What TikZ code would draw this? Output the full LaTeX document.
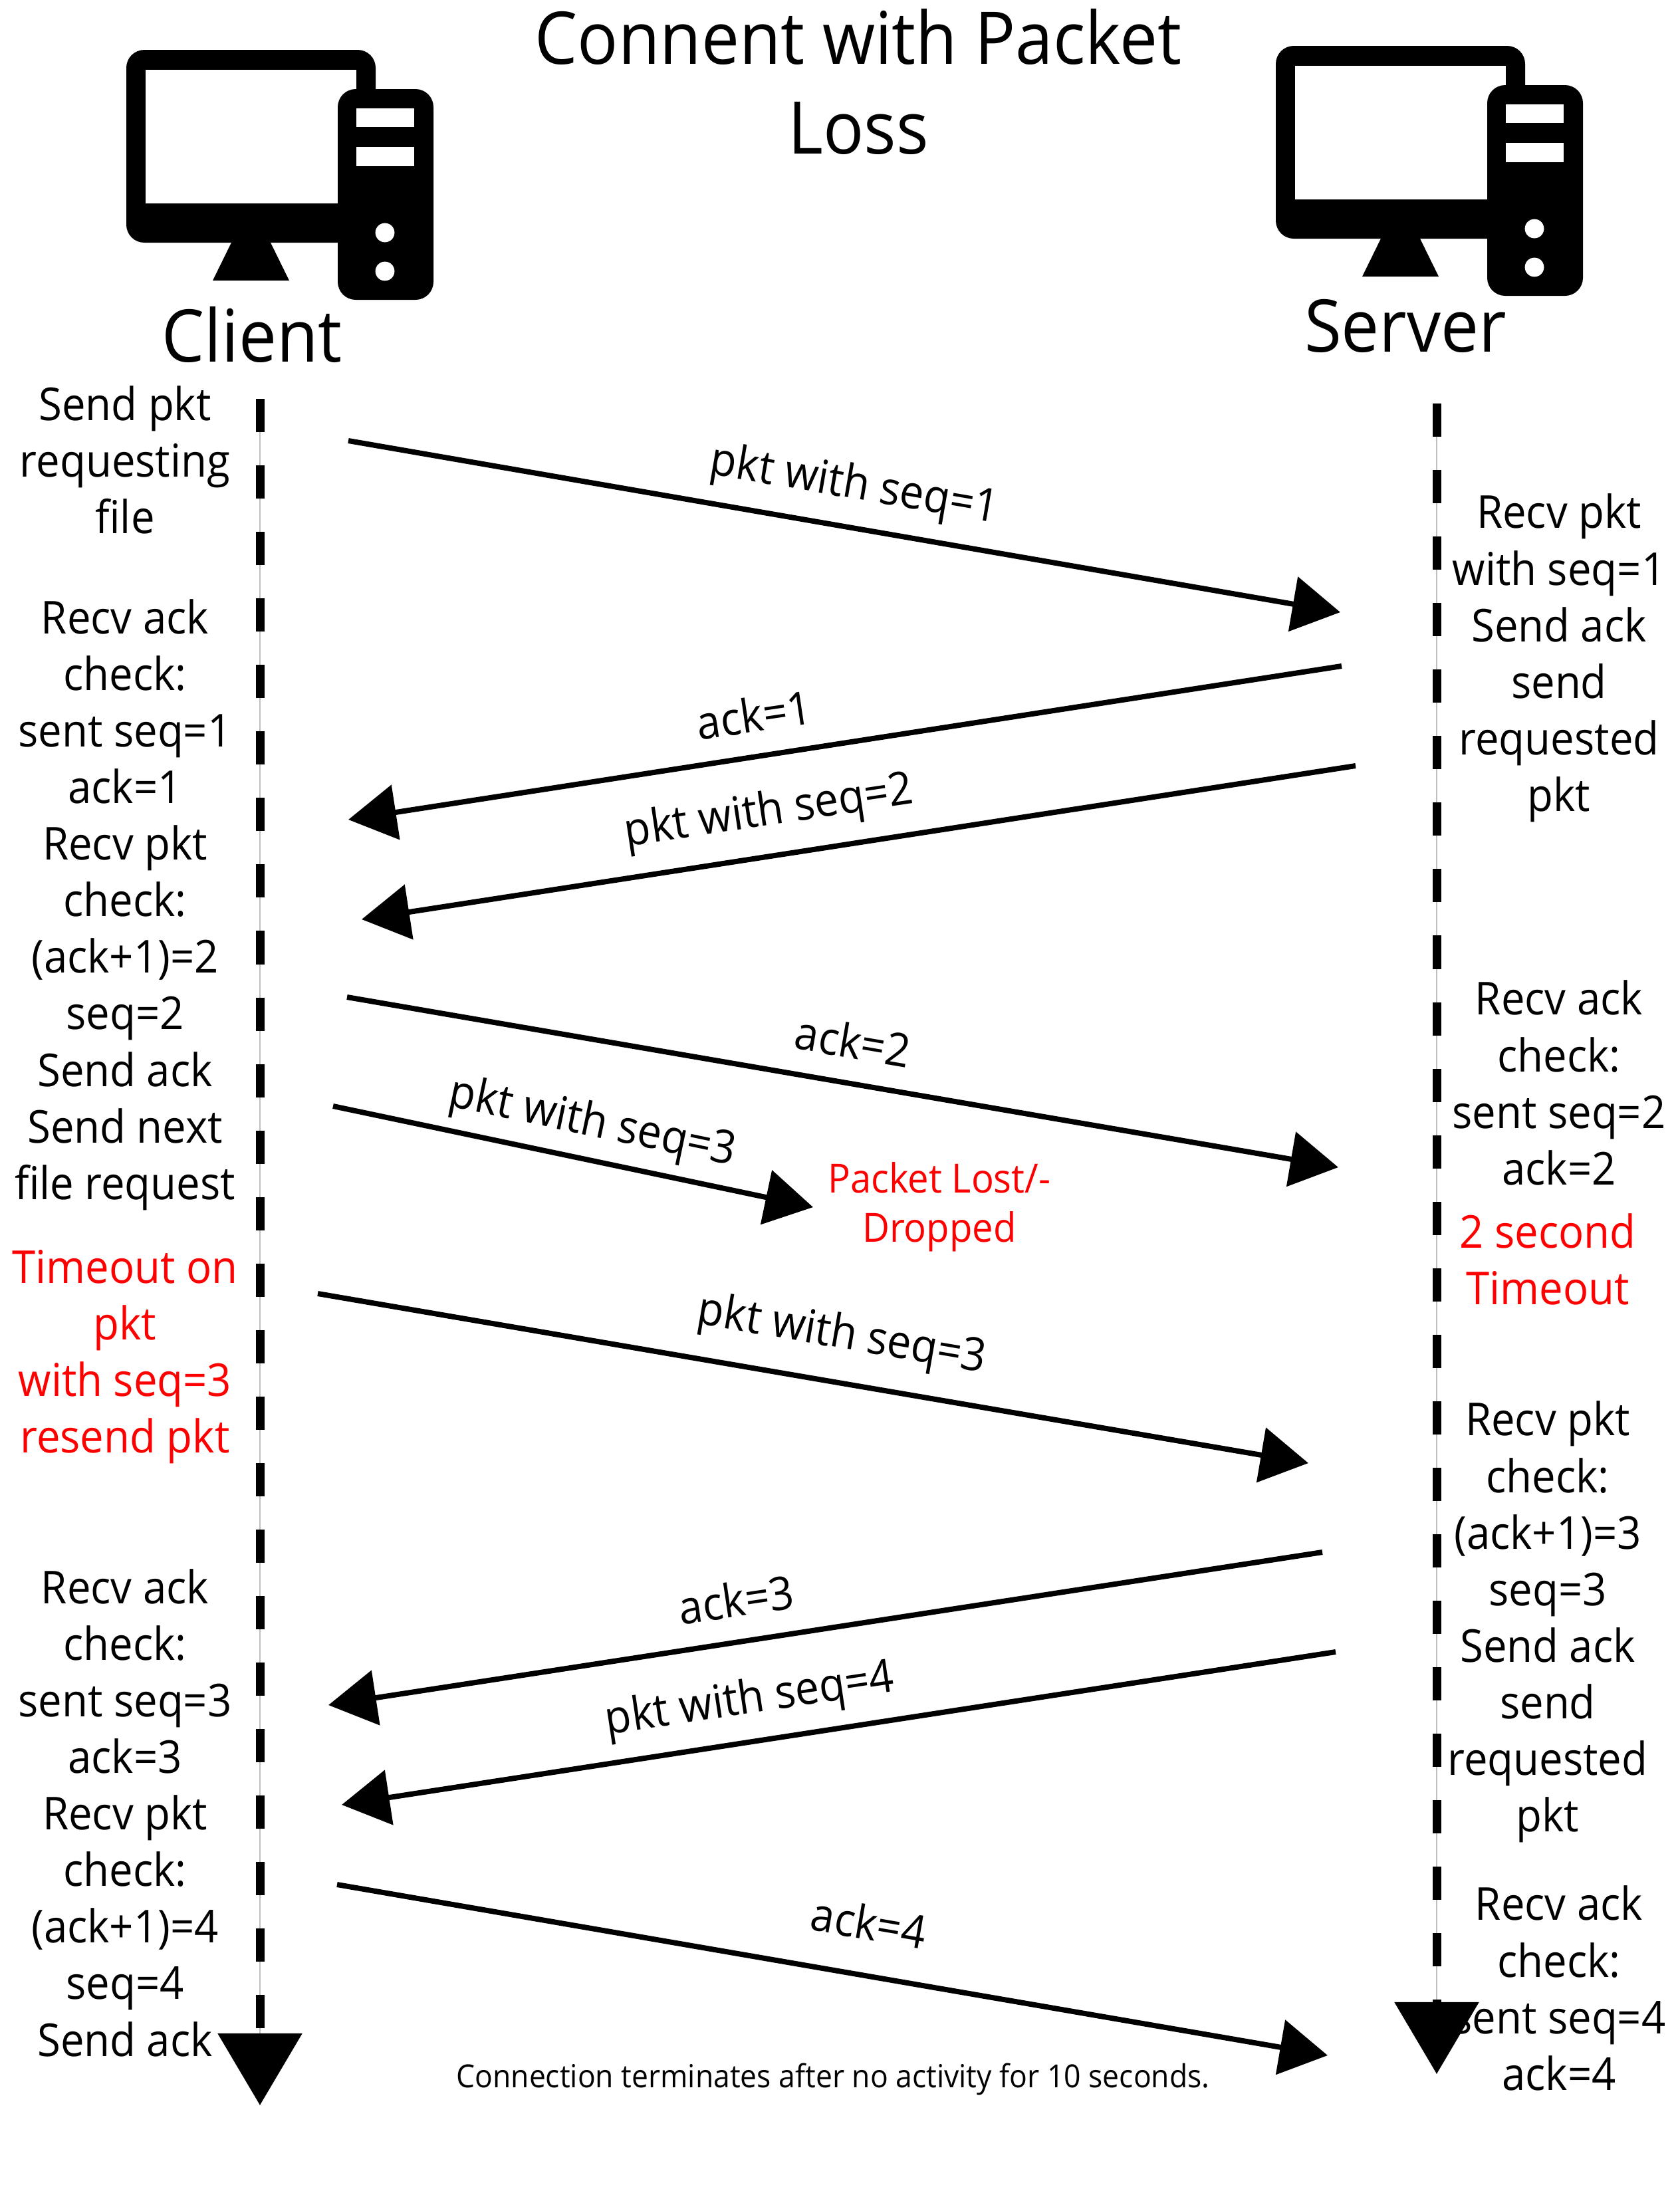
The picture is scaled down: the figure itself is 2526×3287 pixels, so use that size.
\documentclass[tikz,border=0pt]{standalone}
\usepackage{fontspec}
\setmainfont{Open Sans}[FakeStretch=0.93]
\usetikzlibrary{arrows.meta}
\tikzset{
    lifeline/.style={line width=0.13cm, dash pattern=on 0.5cm off 0.5cm, -{Triangle[length=1.08cm, width=1.24cm]}},
    hairline/.style={line width=0.015cm, black!25},
    msg/.style={line width=0.08cm, -{Triangle[length=0.72cm, width=0.82cm]}},
    steptext/.style={align=center, inner sep=0pt, font=\fontsize{19.4}{24.2}\selectfont},
    lost/.style={steptext, text=red},
    msglabel/.style={inner sep=0pt, font=\fontsize{19.7}{24.2}\selectfont},
    hosttitle/.style={inner sep=0pt, font=\fontsize{31.1}{38.4}\selectfont},
    computer/.pic={
        \fill[rounded corners=0.27cm] (190,75) rectangle (565,365);
        \fill (348,365) -- (407,365) -- (435,422) -- (320,422) -- cycle;
        \fill[white] (219,105) rectangle (536,306);
        \fill[rounded corners=0.27cm] (508,134) rectangle (652,451);
        \fill[white] (536,163) rectangle (623,191);
        \fill[white] (536,221) rectangle (623,250);
        \fill[white] (579,350) circle (14.4);
        \fill[white] (579,408) circle (14.4);
    }
}
\begin{document}
\begin{tikzpicture}[x=0.01cm, y=-0.01cm]
    \useasboundingbox (0,0) rectangle (2526,3287);

    \pic (clienticon) at (0,0) {computer};
    \pic (servericon) at (1729,-6) {computer};

    \node[hosttitle, align=center] (title) at (1291,123) {Connent with Packet\\Loss};
    \node[hosttitle] (client) at (379,503) {Client};
    \node[hosttitle] (server) at (2114,490) {Server};

    \node[steptext] (c1) at (188,692) {Send pkt\\requesting\\file};
    \node[steptext] (c2) at (188,1361) {Recv ack\\check:\\sent seq=1\\ack=1\\Recv pkt\\check:\\(ack+1)=2\\seq=2\\Send ack\\Send next\\file request};
    \node[lost] (c3) at (188,2041) {Timeout on\\pkt\\with seq=3\\resend pkt};
    \node[steptext] (c4) at (188,2727) {Recv ack\\check:\\sent seq=3\\ack=3\\Recv pkt\\check:\\(ack+1)=4\\seq=4\\Send ack};

    \node[steptext] (s1) at (2345,990) {Recv pkt\\with seq=1\\Send ack\\send\\requested\\pkt};
    \node[steptext] (s2) at (2345,1629) {Recv ack\\check:\\sent seq=2\\ack=2};
    \node[lost] (s3) at (2328,1894) {2 second\\Timeout};
    \node[steptext] (s4) at (2328,2440) {Recv pkt\\check:\\(ack+1)=3\\seq=3\\Send ack\\send\\requested\\pkt};
    \node[steptext] (s5) at (2345,2991) {Recv ack\\check:\\sent seq=4\\ack=4};

    \coordinate (ctop) at (391,600);
    \coordinate (cend) at (391,3167);
    \coordinate (stop) at (2161,607);
    \coordinate (send) at (2161,3120);
    \draw[hairline] (ctop) -- (cend);
    \draw[hairline] (stop) -- (send);
    \draw[lifeline] (ctop) -- (cend);
    \draw[lifeline] (stop) -- (send);

    \coordinate (m1a) at (524,663);   \coordinate (m1b) at (2016,921);
    \coordinate (m2a) at (2018,1002); \coordinate (m2b) at (524,1233);
    \coordinate (m3a) at (2039,1152); \coordinate (m3b) at (544,1383);
    \coordinate (m4a) at (522,1500);  \coordinate (m4b) at (2013,1756);
    \coordinate (m5a) at (501,1664);  \coordinate (m5b) at (1223,1816);
    \coordinate (m6a) at (478,1946);  \coordinate (m6b) at (1968,2201);
    \coordinate (m7a) at (1989,2335); \coordinate (m7b) at (494,2565);
    \coordinate (m8a) at (2009,2485); \coordinate (m8b) at (514,2715);
    \coordinate (m9a) at (507,2835);  \coordinate (m9b) at (1997,3092);

    \draw[msg] (m1a) -- (m1b);
    \draw[msg] (m2a) -- (m2b);
    \draw[msg] (m3a) -- (m3b);
    \draw[msg] (m4a) -- (m4b);
    \draw[msg] (m5a) -- (m5b);
    \draw[msg] (m6a) -- (m6b);
    \draw[msg] (m7a) -- (m7b);
    \draw[msg] (m8a) -- (m8b);
    \draw[msg] (m9a) -- (m9b);

    \node[msglabel, rotate=-9.7] (l1) at (1285,732) {pkt with seq=1};
    \node[msglabel, rotate=8.5] (l2) at (1134,1075) {ack=1};
    \node[msglabel, rotate=8.5] (l3) at (1157,1223) {pkt with seq=2};
    \node[msglabel, rotate=-9.7] (l4) at (1283,1566) {ack=2};
    \node[msglabel, rotate=-11.8] (l5) at (891,1691) {pkt with seq=3};
    \node[msglabel, rotate=-9.7] (l6) at (1266,2010) {pkt with seq=3};
    \node[msglabel, rotate=8.5] (l7) at (1107,2406) {ack=3};
    \node[msglabel, rotate=8.5] (l8) at (1128,2559) {pkt with seq=4};
    \node[msglabel, rotate=-9.7] (l9) at (1307,2892) {ack=4};

    \node[align=center, inner sep=0pt, text=red, font=\fontsize{17.2}{20.9}\selectfont] (drop) at (1413,1816) {Packet Lost/-\\Dropped};
    \node[inner sep=0pt, font=\fontsize{13.6}{18}\selectfont] (note) at (1253,3128) {Connection terminates after no activity for 10 seconds.};
\end{tikzpicture}
\end{document}
